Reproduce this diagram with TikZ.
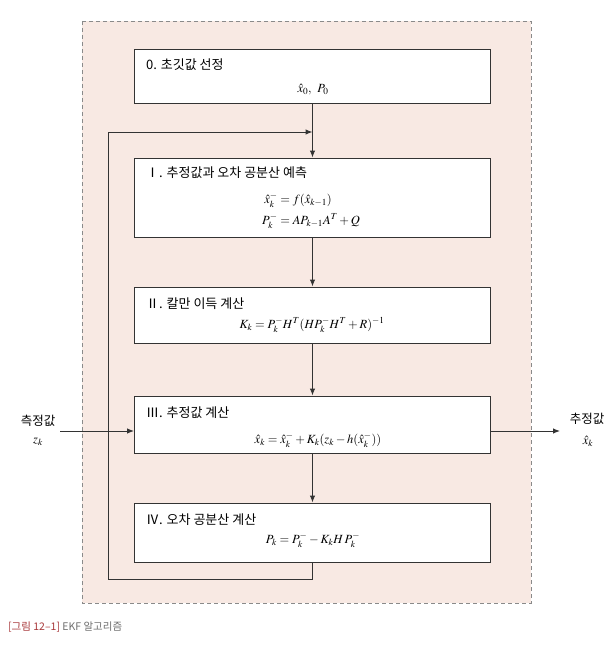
\documentclass[tikz,border=0pt]{standalone}
\usepackage{amsmath}
\usepackage{mathptmx}
\usepackage{fontspec}
\setmainfont{Noto Sans CJK KR}
\usetikzlibrary{arrows.meta}
\definecolor{EKFPink}{HTML}{F8E9E3}
\definecolor{EKFLine}{HTML}{333333}
\definecolor{EKFDash}{HTML}{8A8A8A}
\definecolor{EKFRed}{HTML}{A8383A}
\definecolor{EKFGray}{HTML}{6E6E6E}

\begin{document}
\begin{tikzpicture}[x=1pt,y=-1pt,
  stepbox/.style={draw=EKFLine,line width=0.9pt,fill=white,minimum width=356pt,inner sep=0pt},
  steptitle/.style={anchor=west,inner sep=0pt,font=\fontsize{13}{15}\selectfont},
  stepmath/.style={inner sep=0pt,font=\fontsize{12.5}{14.5}\selectfont},
  sidelabel/.style={inner sep=0pt,font=\fontsize{12.5}{14}\selectfont},
  flow/.style={EKFLine,line width=1pt,-{Latex[length=7pt,width=5.5pt]}}]
\path[use as bounding box] (0,0) rectangle (613,650);
% dashed frame
\fill[EKFPink] (82,21) rectangle (531,603);
\draw[EKFDash,line width=0.7pt,dash pattern=on 4pt off 3pt] (82,21) rectangle (531,603);
% steps
\node[stepbox,minimum height=54pt] (b0) at (312.5,76) {};
\node[steptitle] (t0) at (146,65) {0. 초깃값 선정};
\node[stepmath] (f0) at (313,90) {$\hat{x}_0,\ \,P_0$};
\node[stepbox,minimum height=79pt] (b1) at (312.5,197.5) {};
\node[steptitle] (t1) at (146,173) {Ⅰ. 추정값과 오차 공분산 예측};
\node[stepmath] (f1) at (311,211) {$\begin{aligned}\hat{x}_k^- &= f(\hat{x}_{k-1})\\[2pt] P_k^- &= AP_{k-1}A^T+Q\end{aligned}$};
\node[stepbox,minimum height=56pt] (b2) at (312.5,315) {};
\node[steptitle] (t2) at (146,304) {Ⅱ. 칼만 이득 계산};
\node[stepmath] (f2) at (312,325) {$K_k = P_k^- H^T(HP_k^- H^T+R)^{-1}$};
\node[stepbox,minimum height=57pt] (b3) at (312.5,424.5) {};
\node[steptitle] (t3) at (146,413) {Ⅲ. 추정값 계산};
\node[stepmath] (f3) at (318,440) {$\hat{x}_k = \hat{x}_k^- + K_k(z_k - h(\hat{x}_k^-))$};
\node[stepbox,minimum height=59pt] (b4) at (312.5,532.5) {};
\node[steptitle] (t4) at (146,520) {Ⅳ. 오차 공분산 계산};
\node[stepmath] (f4) at (313,540) {$P_k = P_k^- - K_k H\,P_k^-$};
% flow
\draw[flow] (b0.south) -- (b1.north);
\draw[flow] (b1.south) -- (b2.north);
\draw[flow] (b2.south) -- (b3.north);
\draw[flow] (b3.south) -- (b4.north);
\coordinate (loopB) at (108,579);
\coordinate (loopT) at (108,132);
\coordinate (joinT) at (312.5,132);
\draw[flow] (b4.south) |- (loopB) -- (loopT) -- (joinT);
% measurement in, estimate out
\coordinate (zin) at (60,431);
\coordinate (xout) at (560,431);
\draw[flow] (zin) -- (zin -| b3.west);
\draw[flow] (xout -| b3.east) -- (xout);
\node[sidelabel] (zname) at (38,421) {측정값};
\node[stepmath] (zsym) at (38,442) {$z_k$};
\node[sidelabel] (xname) at (587,419) {추정값};
\node[stepmath] (xsym) at (588,441) {$\hat{x}_k$};
% caption
\node[anchor=west,inner sep=0pt,font=\fontsize{10.5}{12}\selectfont] (cap) at (8,627)
  {\textcolor{EKFRed}{[그림 12–1]} \textcolor{EKFGray}{EKF 알고리즘}};
\end{tikzpicture}
\end{document}
